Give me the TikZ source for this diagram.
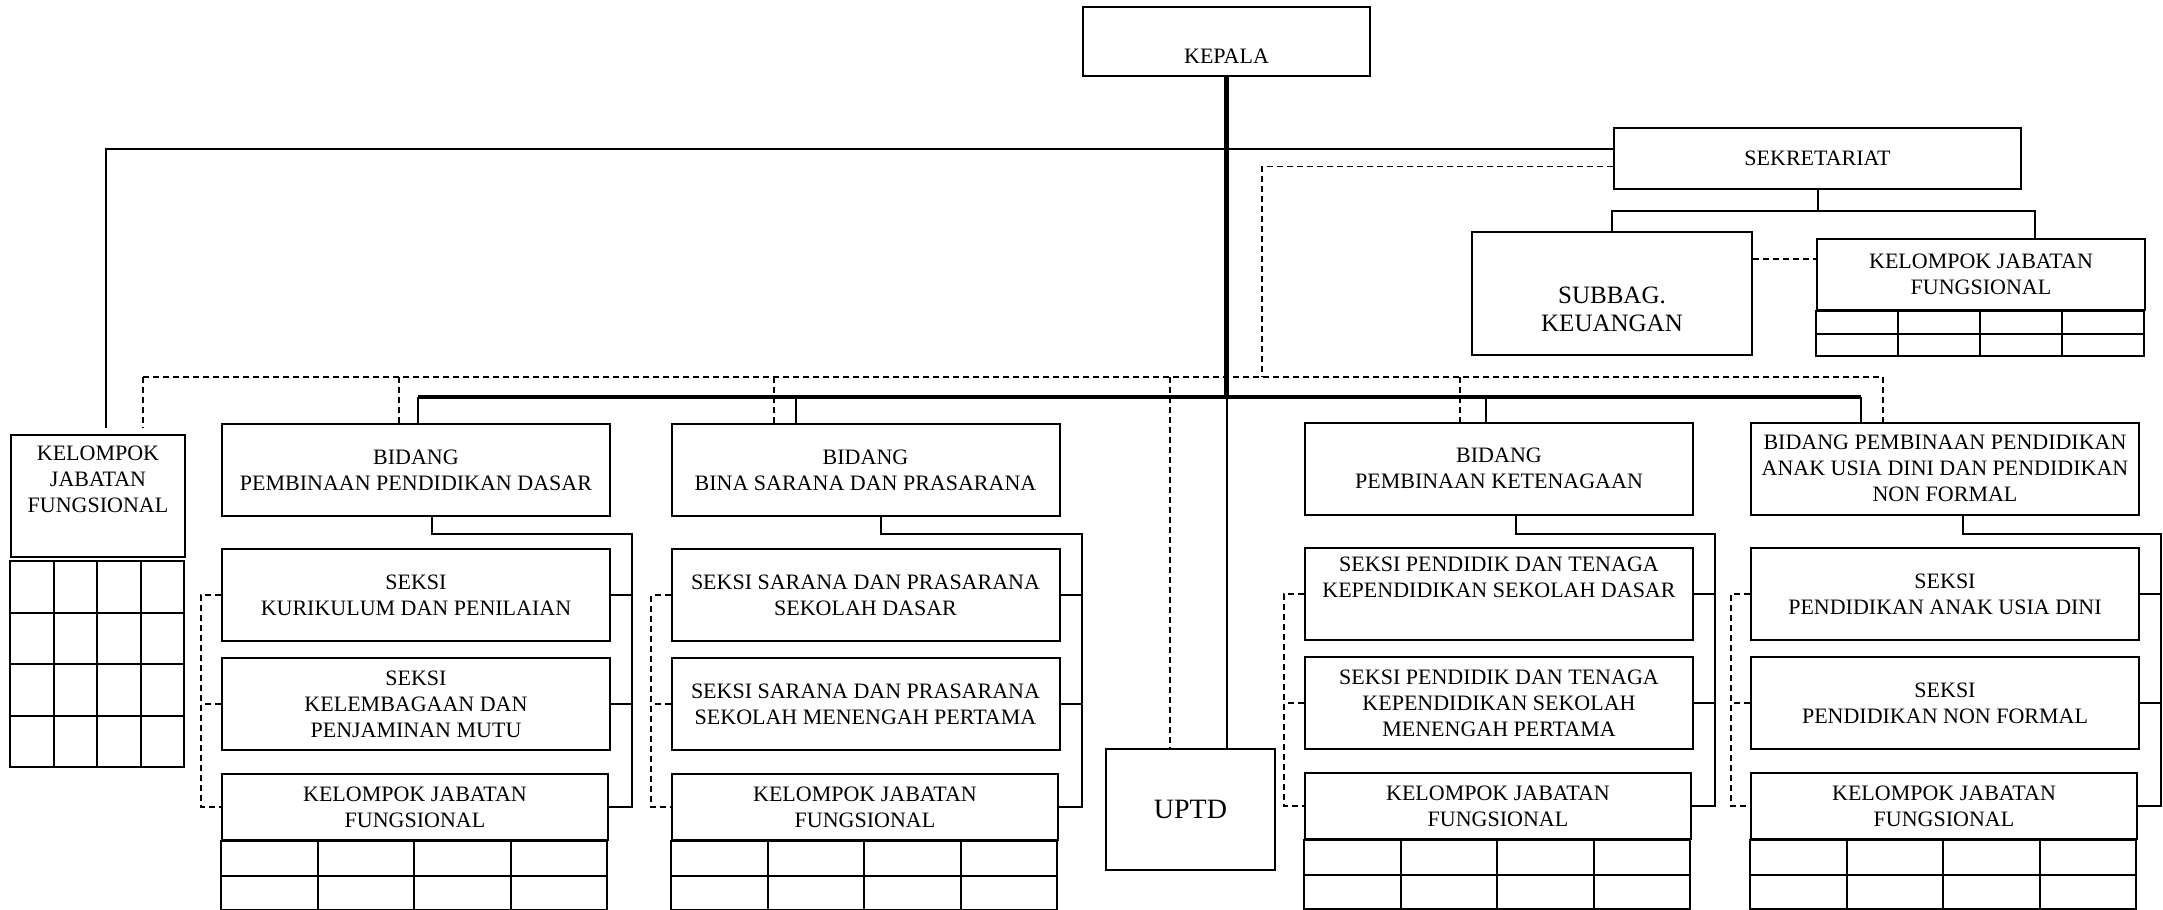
\documentclass[tikz,border=0pt]{standalone}
\usepackage{fontspec}
\setmainfont{Liberation Serif}
\usetikzlibrary{calc}

\begin{document}
\begin{tikzpicture}[x=0.5pt,y=-0.5pt,
  box/.style={draw,line width=1pt,align=center,inner sep=1pt,font=\fontsize{11}{13}\selectfont},
  bid/.style={box,minimum width=194pt,minimum height=46pt},
  kjf/.style={box,minimum width=193pt,minimum height=33pt},
  cell/.style={line width=1pt},
  link/.style={line width=1pt},
  trunk/.style={line width=2.2pt},
  bus/.style={line width=1.6pt},
  dline/.style={line width=0.8pt,dash pattern=on 3pt off 2pt}]
\useasboundingbox (0,0) rectangle (2163,910);

% pimpinan dan sekretariat
\node[box,minimum width=143.5pt,minimum height=34.5pt] (kepala) at (1226.5,41.5) {\strut\\KEPALA};
\node[box,minimum width=203.5pt,minimum height=30.5pt] (sekre) at (1817.5,158.5) {SEKRETARIAT};
\node[box,line width=1.3pt,font=\fontsize{12.5}{14}\selectfont,minimum width=140pt,minimum height=61.5pt] (subbag) at (1612,293.5) {\strut\\SUBBAG.\\KEUANGAN};
\node[box,minimum width=164pt,minimum height=35.5pt] (kjfS) at (1981,274.5) {KELOMPOK JABATAN\\FUNGSIONAL};
\node[box,minimum width=87pt,minimum height=61pt] (kjfL) at (98,496) {KELOMPOK\\JABATAN\\FUNGSIONAL\\\strut};
\node[box,font=\fontsize{14}{16}\selectfont,minimum width=84.5pt,minimum height=60.5pt] (uptd) at (1190.5,809.5) {UPTD};

% bidang
\node[bid] (bidA) at (416,470) {BIDANG\\PEMBINAAN PENDIDIKAN DASAR};
\node[bid] (bidB) at (865.5,470) {BIDANG\\BINA SARANA DAN PRASARANA};
\node[bid] (bidC) at (1499,468.5) {BIDANG\\PEMBINAAN KETENAGAAN};
\node[bid] (bidD) at (1945,468.5) {BIDANG PEMBINAAN PENDIDIKAN\\ANAK USIA DINI DAN PENDIDIKAN\\NON FORMAL};

% seksi
\node[bid] (sA1) at (416,595) {SEKSI\\KURIKULUM DAN PENILAIAN};
\node[bid] (sA2) at (416,704) {SEKSI\\KELEMBAGAAN DAN\\PENJAMINAN MUTU};
\node[bid] (sB1) at (865.5,595) {SEKSI SARANA DAN PRASARANA\\SEKOLAH DASAR};
\node[bid] (sB2) at (865.5,704) {SEKSI SARANA DAN PRASARANA\\SEKOLAH MENENGAH PERTAMA};
\node[bid] (sC1) at (1499,594) {SEKSI PENDIDIK DAN TENAGA\\KEPENDIDIKAN SEKOLAH DASAR\\\strut};
\node[bid] (sC2) at (1499,703) {SEKSI PENDIDIK DAN TENAGA\\KEPENDIDIKAN SEKOLAH\\MENENGAH PERTAMA};
\node[bid] (sD1) at (1945,594) {SEKSI\\PENDIDIKAN ANAK USIA DINI};
\node[bid] (sD2) at (1945,703) {SEKSI\\PENDIDIKAN NON FORMAL};

% kelompok jabatan fungsional
\node[kjf] (kjfA) at (415,807) {KELOMPOK JABATAN\\FUNGSIONAL};
\node[kjf] (kjfB) at (865,807) {KELOMPOK JABATAN\\FUNGSIONAL};
\node[kjf] (kjfC) at (1498,806) {KELOMPOK JABATAN\\FUNGSIONAL};
\node[kjf] (kjfD) at (1944,806) {KELOMPOK JABATAN\\FUNGSIONAL};

% kotak isian
\foreach \c in {A,B,C,D}
  \foreach \i in {0,...,3}
    \foreach \j in {0,1}
      \draw[cell] ($(kjf\c.south west)+(\i*96.5,\j*34.5)$) rectangle ++(96.5,34.5);
\foreach \i in {0,...,3}
  \foreach \j in {0,1}
    \draw[cell] ($(kjfS.south west)+(\i*82,\j*22.5)$) rectangle ++(82,22.5);
\foreach \i in {0,...,3}
  \foreach \j in {0,...,3}
    \draw[cell] ($(kjfL.south west)+(\i*43.5,3+\j*51.5)$) rectangle ++(43.5,51.5);

% garis komando
\draw[trunk] (kepala.south) -- (kepala.south |- 0,397);
\draw[link] (kepala.south |- 0,397) -- (uptd.north -| kepala.south);
\draw[bus] (418,397) -- (1861,397);
\foreach \x/\n in {418/bidA,796/bidB,1486/bidC,1861/bidD}
  \draw[link] (\x,397) -- (\n.north -| \x,0);
\draw[link] ([yshift=5pt]sekre.west) -| ([xshift=4pt,yshift=3pt]kjfL.north);
\draw[link] (sekre.south) -- (sekre.south |- 0,211);
\draw[link] (subbag.north) |- (sekre.south |- 0,211) -| (kjfS.north -| 2035,0);
\foreach \c/\dx/\rx in {A/432/632,B/881/1082,C/1516/1715,D/1963/2161} {
  \draw[link] (bid\c.south -| \dx,0) |- (\rx,534) -- (kjf\c.east -| \rx,0) -- (kjf\c.east);
  \draw[link] (s\c1.east) -- (s\c1.east -| \rx,0);
  \draw[link] (s\c2.east) -- (s\c2.east -| \rx,0);
}

% garis koordinasi
\draw[dline] ([yshift=-4pt]sekre.west) -| (1262,377);
\draw[dline] (143,377) -- (1883,377);
\draw[dline] (143,377) -- ([yshift=3pt]kjfL.north -| 143,0);
\foreach \x/\n in {399/bidA,774/bidB,1460/bidC,1883/bidD}
  \draw[dline] (\x,377) -- (\n.north -| \x,0);
\draw[dline] (1170,377) -- (uptd.north -| 1170,0);
\draw[dline] (subbag.east |- 0,259) -- (kjfS.west |- 0,259);
\foreach \c/\lx in {A/201,B/651,C/1284,D/1731} {
  \draw[dline] (s\c1.west) -- (s\c1.west -| \lx,0) -- (kjf\c.west -| \lx,0) -- (kjf\c.west);
  \draw[dline] (s\c2.west) -- (s\c2.west -| \lx,0);
}
\end{tikzpicture}
\end{document}
